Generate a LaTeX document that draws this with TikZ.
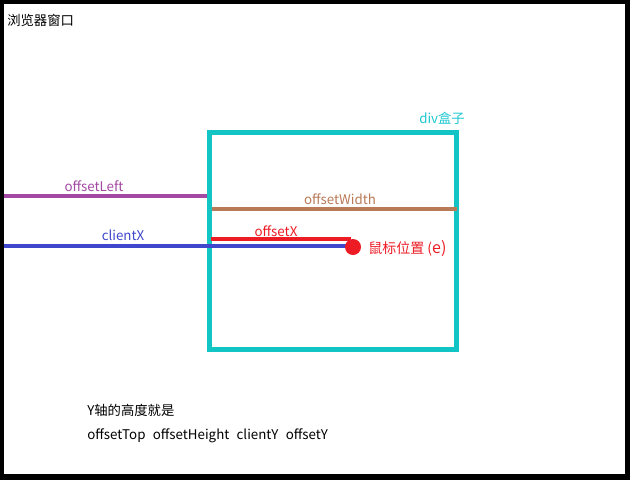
\documentclass[tikz,border=0pt]{standalone}
\usepackage{fontspec}
\setmainfont{Noto Sans CJK SC}
\definecolor{cyanbox}{RGB}{18,196,196}
\definecolor{cyantxt}{RGB}{30,200,210}
\definecolor{purp}{RGB}{163,73,164}
\definecolor{brwn}{RGB}{185,122,87}
\definecolor{indig}{RGB}{63,72,204}
\definecolor{redc}{RGB}{237,28,36}
\begin{document}
\begin{tikzpicture}[x=0.75pt,y=-0.75pt,
  lbl/.style={inner sep=0pt,font=\fontsize{10pt}{12pt}\selectfont},
  measline/.style={line width=2.6pt}]
\useasboundingbox (0,0) rectangle (630,480);
\fill[black] (0,0) rectangle (630,480);
\fill[white] (4,4) rectangle (625,474);
% div box
\draw[cyanbox,line width=3.75pt] (209.5,132) rectangle (456.5,349.5);
\node[lbl,text=cyantxt,anchor=west] (divlbl) at (419,118) {div盒子};
\node[lbl,anchor=west] (win) at (7,20) {浏览器窗口};
% coordinates
\coordinate (olA) at (4,196);
\coordinate (olB) at (207,196);
\coordinate (owA) at (212,209);
\coordinate (owB) at (457,209);
\coordinate (oxA) at (211,239);
\coordinate (oxB) at (351,239);
\coordinate (cxA) at (4,246);
\coordinate (cxB) at (350,246);
% lines
\draw[purp,measline] (olA) -- (olB);
\draw[brwn,measline] (owA) -- (owB);
\draw[redc,measline] (oxA) -- (oxB);
\draw[indig,measline] (cxA) -- (cxB);
\node[circle,fill=redc,inner sep=0pt,minimum size=12pt] (mouse) at (353,247) {};
% labels
\node[lbl,text=purp] (ollbl) at (94,186) {offsetLeft};
\node[lbl,text=brwn] (owlbl) at (340,199) {offsetWidth};
\node[lbl,text=indig] (cxlbl) at (123,235) {clientX};
\node[lbl,text=redc] (oxlbl) at (276,231) {offsetX};
\node[lbl,text=redc,anchor=west,font=\fontsize{10.5pt}{12pt}\selectfont] (mlbl) at (368,249) {鼠标位置 (\fontsize{12pt}{12pt}\selectfont e)};
\node[lbl,anchor=west] (y1) at (87,410) {Y轴的高度就是};
\node[lbl,anchor=west] (y2) at (87,436) {offsetTop\hspace{0.55em}offsetHeight\hspace{0.55em}clientY\hspace{0.55em}offsetY};
\end{tikzpicture}
\end{document}
